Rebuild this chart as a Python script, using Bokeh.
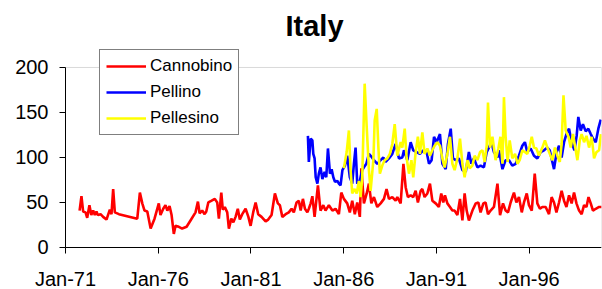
from bokeh.plotting import figure
from bokeh.models import Range1d, FixedTicker, Legend, LegendItem, BoxAnnotation
from bokeh.embed import file_html
from bokeh.resources import INLINE

# ---- data (decimal year, value) ----
cannobino_year = [1971.76, 1971.86, 1971.95, 1972.08, 1972.17, 1972.29, 1972.39, 1972.49, 1972.58, 1972.67,
                  1972.74, 1972.89, 1973.03, 1973.21, 1973.39, 1973.48, 1973.57, 1973.66, 1973.88, 1974.87,
                  1975.01, 1975.14, 1975.26, 1975.41, 1975.59, 1975.80, 1976.03, 1976.12, 1976.27, 1976.39,
                  1976.49, 1976.61, 1976.72, 1976.84, 1976.93, 1977.11, 1977.29, 1977.53, 1977.74, 1978.01,
                  1978.14, 1978.23, 1978.37, 1978.50, 1978.59, 1978.70, 1978.88, 1979.05, 1979.18, 1979.27,
                  1979.40, 1979.48, 1979.59, 1979.72, 1979.81, 1979.94, 1980.05, 1980.17, 1980.29, 1980.40,
                  1980.53, 1980.71, 1980.86, 1980.98, 1981.12, 1981.25, 1981.39, 1981.57, 1981.79, 1981.93,
                  1982.11, 1982.29, 1982.45, 1982.56, 1982.69, 1982.87, 1983.04, 1983.19, 1983.31, 1983.46,
                  1983.58, 1983.68, 1983.80, 1983.91, 1984.04, 1984.12, 1984.22, 1984.31, 1984.43, 1984.61,
                  1984.75, 1984.90, 1985.02, 1985.20, 1985.39, 1985.56, 1985.74, 1985.87, 1986.01, 1986.19,
                  1986.33, 1986.46, 1986.60, 1986.73, 1986.87, 1986.95, 1987.09, 1987.24, 1987.36, 1987.49,
                  1987.63, 1987.81, 1987.99, 1988.17, 1988.31, 1988.44, 1988.62, 1988.80, 1988.89, 1989.07,
                  1989.22, 1989.34, 1989.46, 1989.61, 1989.75, 1989.88, 1990.00, 1990.15, 1990.24, 1990.36,
                  1990.51, 1990.65, 1990.78, 1990.96, 1991.13, 1991.26, 1991.37, 1991.46, 1991.59, 1991.73,
                  1991.86, 1991.98, 1992.13, 1992.27, 1992.40, 1992.52, 1992.63, 1992.75, 1992.94, 1993.12,
                  1993.26, 1993.38, 1993.53, 1993.65, 1993.78, 1993.92, 1994.10, 1994.29, 1994.43, 1994.59,
                  1994.73, 1994.86, 1995.00, 1995.18, 1995.31, 1995.45, 1995.60, 1995.72, 1995.87, 1995.99,
                  1996.14, 1996.30, 1996.44, 1996.58, 1996.71, 1996.89, 1997.07, 1997.21, 1997.34, 1997.47,
                  1997.61, 1997.75, 1997.88, 1998.01, 1998.15, 1998.29, 1998.42, 1998.55, 1998.69, 1998.83,
                  1998.96, 1999.09, 1999.20, 1999.32, 1999.44, 1999.59, 1999.77, 1999.91]
cannobino_val = [41, 57, 40, 39, 33, 47, 36, 41, 36, 40,
                 36, 37, 34, 31, 42, 37, 65, 39, 37, 32,
                 61, 49, 41, 40, 21, 32, 49, 36, 43, 47,
                 41, 46, 36, 15, 24, 23, 21, 23, 30, 39,
                 51, 38, 41, 37, 40, 50, 52, 54, 50, 32,
                 61, 42, 45, 39, 21, 32, 28, 34, 43, 31,
                 37, 43, 34, 24, 39, 50, 37, 34, 29, 31,
                 36, 60, 49, 47, 34, 37, 39, 43, 39, 50,
                 52, 41, 54, 43, 39, 43, 49, 57, 34, 69,
                 41, 47, 41, 47, 41, 43, 37, 61, 54, 49,
                 39, 52, 37, 50, 34, 88, 49, 60, 71, 49,
                 56, 45, 49, 54, 65, 54, 56, 52, 56, 49,
                 93, 67, 56, 58, 56, 63, 50, 63, 65, 56,
                 60, 71, 52, 49, 45, 60, 50, 58, 49, 45,
                 41, 41, 36, 54, 30, 60, 41, 30, 41, 49,
                 50, 39, 49, 50, 37, 41, 45, 71, 36, 49,
                 41, 39, 50, 61, 50, 56, 39, 50, 60, 47,
                 41, 82, 49, 43, 45, 45, 37, 56, 50, 39,
                 50, 63, 52, 45, 58, 49, 61, 49, 41, 37,
                 47, 45, 56, 49, 41, 43, 45, 45]

pellino_year = [1984.07, 1984.12, 1984.22, 1984.31, 1984.36, 1984.43, 1984.49, 1984.58, 1984.66, 1984.75,
                1984.85, 1984.97, 1985.06, 1985.15, 1985.26, 1985.35, 1985.44, 1985.53, 1985.66, 1985.74,
                1985.83, 1985.93, 1986.07, 1986.19, 1986.33, 1986.46, 1986.55, 1986.64, 1986.73, 1986.87,
                1987.00, 1987.09, 1987.22, 1987.36, 1987.49, 1987.63, 1987.81, 1987.99, 1988.14, 1988.26,
                1988.44, 1988.62, 1988.80, 1988.98, 1989.16, 1989.25, 1989.43, 1989.61, 1989.75, 1989.93,
                1990.11, 1990.29, 1990.47, 1990.60, 1990.74, 1990.87, 1991.01, 1991.19, 1991.32, 1991.50,
                1991.62, 1991.77, 1991.89, 1992.04, 1992.21, 1992.40, 1992.58, 1992.75, 1992.88, 1993.02,
                1993.21, 1993.38, 1993.56, 1993.71, 1993.83, 1993.96, 1994.10, 1994.29, 1994.37, 1994.56,
                1994.73, 1994.91, 1995.09, 1995.27, 1995.45, 1995.63, 1995.77, 1995.90, 1996.08, 1996.26,
                1996.44, 1996.62, 1996.80, 1996.98, 1997.11, 1997.25, 1997.34, 1997.48, 1997.61, 1997.75,
                1997.88, 1998.01, 1998.15, 1998.29, 1998.44, 1998.56, 1998.65, 1998.78, 1998.90, 1999.05,
                1999.19, 1999.32, 1999.44, 1999.59, 1999.73, 1999.86]
pellino_val = [124, 95, 121, 119, 104, 99, 78, 71, 82, 89,
               76, 84, 78, 110, 82, 87, 78, 73, 74, 71,
               69, 86, 91, 102, 78, 71, 93, 111, 71, 74,
               86, 89, 93, 104, 101, 97, 93, 97, 100, 95,
               99, 104, 115, 99, 100, 108, 97, 117, 108, 106,
               104, 108, 106, 93, 97, 123, 117, 126, 93, 87,
               115, 132, 99, 97, 99, 86, 84, 106, 93, 99,
               89, 91, 89, 106, 111, 117, 106, 100, 108, 87,
               97, 97, 91, 93, 102, 113, 117, 106, 110, 102,
               99, 106, 108, 111, 108, 95, 87, 106, 113, 100,
               117, 126, 132, 117, 108, 124, 145, 130, 137, 129,
               132, 126, 121, 117, 132, 142]

pellesino_year = [1986.01, 1986.16, 1986.28, 1986.37, 1986.46, 1986.59, 1986.70, 1986.82, 1986.91, 1987.00,
                  1987.13, 1987.24, 1987.36, 1987.45, 1987.60, 1987.67, 1987.78, 1987.87, 1987.95, 1988.08,
                  1988.21, 1988.35, 1988.49, 1988.62, 1988.75, 1988.89, 1989.07, 1989.16, 1989.29, 1989.39,
                  1989.52, 1989.65, 1989.75, 1989.88, 1990.00, 1990.11, 1990.24, 1990.36, 1990.51, 1990.65,
                  1990.78, 1990.90, 1991.05, 1991.19, 1991.32, 1991.44, 1991.59, 1991.73, 1991.86, 1991.98,
                  1992.13, 1992.27, 1992.40, 1992.52, 1992.67, 1992.79, 1992.94, 1993.06, 1993.21, 1993.35,
                  1993.48, 1993.60, 1993.71, 1993.78, 1993.89, 1994.02, 1994.19, 1994.34, 1994.45, 1994.56,
                  1994.64, 1994.73, 1994.84, 1994.95, 1995.09, 1995.24, 1995.37, 1995.49, 1995.63, 1995.77,
                  1995.90, 1996.03, 1996.14, 1996.26, 1996.39, 1996.53, 1996.71, 1996.85, 1996.98, 1997.11,
                  1997.25, 1997.39, 1997.52, 1997.65, 1997.75, 1997.85, 1997.97, 1998.12, 1998.24, 1998.36,
                  1998.47, 1998.60, 1998.73, 1998.83, 1998.96, 1999.09, 1999.23, 1999.37, 1999.50, 1999.63,
                  1999.77, 1999.87]
pellesino_val = [88, 106, 130, 86, 60, 65, 60, 74, 56, 78,
                 182, 134, 86, 63, 97, 141, 154, 111, 82, 91,
                 97, 99, 104, 115, 137, 102, 117, 111, 132, 100,
                 82, 97, 78, 106, 123, 104, 128, 104, 110, 102,
                 108, 113, 117, 113, 99, 89, 104, 123, 93, 86,
                 99, 121, 93, 78, 97, 88, 91, 102, 97, 106,
                 108, 95, 113, 161, 111, 123, 97, 110, 123, 93,
                 167, 123, 95, 119, 99, 104, 93, 97, 108, 106,
                 104, 113, 123, 111, 110, 102, 111, 119, 111, 104,
                 97, 111, 102, 95, 115, 169, 130, 123, 111, 126,
                 113, 97, 119, 126, 117, 124, 111, 123, 99, 106,
                 108, 126]

series_names = ["Cannobino", "Pellino", "Pellesino"]
series_colors = ["#FF0000", "#0000FF", "#FFFF00"]

x_tick_values = [1971, 1976, 1981, 1986, 1991, 1996]
x_tick_labels = ["Jan-71", "Jan-76", "Jan-81", "Jan-86", "Jan-91", "Jan-96"]
y_tick_values = [0, 50, 100, 150, 200]

X_START, X_END = 1971, 1999.9
Y_MIN, Y_MAX = 0, 200
FONT = "Liberation Sans"

# The frame covers the whole area below the title; the axes are pinned at
# x = 1971 and y = 0 and only span the chart's own value / date extent, so
# tick labels, legend and axes all lie inside the frame.
p = figure(width=602, height=289, output_backend="svg", toolbar_location=None,
           x_range=Range1d(1967.495, X_END), y_range=Range1d(-46.7, 222.2),
           min_border_left=0, min_border_right=1, min_border_top=47, min_border_bottom=0,
           background_fill_color="white", border_fill_color="white")

p.title.text = "Italy"
p.title.text_font = FONT
p.title.text_font_size = "29px"
p.title.text_font_style = "bold"
p.title.text_color = "#000000"
p.title.align = "left"
p.title.offset = 285
p.title.standoff = 11

p.xgrid.visible = False
p.ygrid.visible = False
p.outline_line_color = None

# plot-area border (grey), drawn under the axes
p.add_layout(BoxAnnotation(left=X_START, right=X_END, bottom=Y_MIN, top=Y_MAX,
                           fill_alpha=0, line_color="#808080", line_width=1, level="underlay"))

for ax in (p.xaxis[0], p.yaxis[0]):
    ax.axis_line_color = "black"
    ax.axis_line_width = 1
    ax.major_tick_line_color = "black"
    ax.major_tick_out = 6
    ax.major_tick_in = 0
    ax.minor_tick_line_color = None
    ax.major_label_text_font = FONT
    ax.major_label_text_font_size = "20px"
    ax.major_label_text_color = "black"

p.xaxis.ticker = FixedTicker(ticks=x_tick_values)
p.xaxis.major_label_overrides = dict(zip(x_tick_values, x_tick_labels))
p.xaxis.major_label_standoff = 15
p.xaxis.fixed_location = Y_MIN
p.xaxis.bounds = (X_START, X_END)
p.yaxis.ticker = FixedTicker(ticks=y_tick_values)
p.yaxis.major_label_standoff = 11
p.yaxis.fixed_location = X_START
p.yaxis.bounds = (Y_MIN, Y_MAX)

renderers = []
for xs, ys, color in ((cannobino_year, cannobino_val, series_colors[0]),
                      (pellino_year, pellino_val, series_colors[1]),
                      (pellesino_year, pellesino_val, series_colors[2])):
    r = p.line(xs, ys, line_color=color, line_width=2.6)
    renderers.append(r)

legend = Legend(items=[LegendItem(label=n, renderers=[r]) for n, r in zip(series_names, renderers)],
                location=(99, 154))
legend.margin = 0
legend.padding = 6
legend.spacing = 6
legend.glyph_width = 40
legend.glyph_height = 20
legend.label_height = 20
legend.label_standoff = 4
legend.label_text_font = FONT
legend.label_text_font_size = "17px"
legend.label_text_color = "black"
legend.border_line_color = "black"
legend.border_line_width = 1
legend.background_fill_color = "white"
legend.background_fill_alpha = 1.0
p.add_layout(legend)

open("out.html", "w").write(file_html(p, INLINE))
